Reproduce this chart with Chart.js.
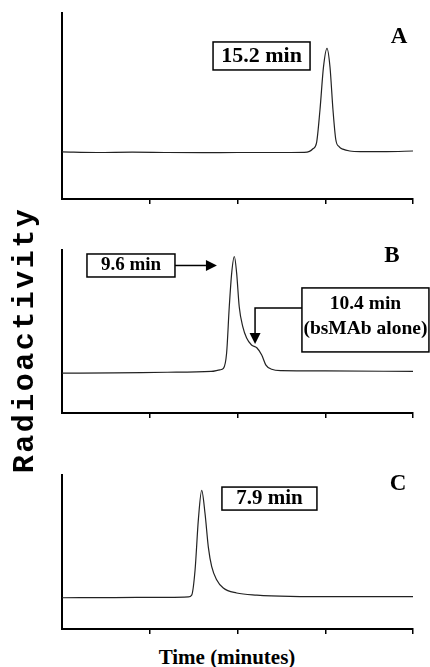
<!DOCTYPE html>
<html>
<head>
<meta charset="utf-8">
<script src="https://cdn.jsdelivr.net/npm/chart.js@4.4.0/dist/chart.umd.min.js"></script>
<style>
    body { margin: 0; background: #fff; }
    #wrap { position: relative; width: 430px; height: 667px; overflow: hidden; }
    canvas { position: absolute; left: 0; }
    .ylab {
        position: absolute; left: -112px; top: 325px; width: 270px; height: 30px;
        line-height: 30px; text-align: center; transform: rotate(-90deg);
        font: bold 30px "Liberation Mono", "Courier New", monospace; letter-spacing: 2.5px; color: #000;
    }
    .xlab {
        position: absolute; left: 127px; top: 645px; width: 200px; height: 21px;
        line-height: 21px; text-align: center;
        font: bold 21px "Liberation Serif", "Times New Roman", serif; color: #000;
    }
</style>
</head>
<body>
<div id="wrap">
    <canvas id="panelA" width="430" height="215" style="top:0px"></canvas>
    <canvas id="panelB" width="430" height="215" style="top:215px"></canvas>
    <canvas id="panelC" width="430" height="215" style="top:430px"></canvas>
    <div class="ylab">Radioactivity</div>
    <div class="xlab">Time (minutes)</div>
</div>
<script>
// tick marks on the time axis (minutes), no labels shown
var tickMinutes = [5, 10, 15, 20];

// A: 15.2 min peak
var timeA   = [0, 2, 4, 6, 8, 10, 12, 13.8, 14.1, 14.3, 14.5, 14.7, 14.9, 15.1, 15.27, 15.44, 15.6, 15.8, 16.0, 16.4, 17, 18.5, 20];
var countsA = [25.3, 25.0, 25.2, 25.0, 24.9, 25.0, 25.0, 25.1, 25.6, 27, 30, 48, 71, 81, 71, 48, 32, 28, 26.8, 25.8, 25.5, 25.5, 25.8];

// B: 9.6 min peak with 10.4 min shoulder
var timeB   = [0, 3, 6, 8.5, 9.0, 9.2, 9.38, 9.53, 9.67, 9.82, 9.95, 10.1, 10.3, 10.52, 10.8, 11.1, 11.38, 11.62, 11.95, 12.5, 15, 20];
var countsB = [24.5, 24.6, 25, 25.5, 26.5, 27.4, 36.8, 65, 86, 96, 86, 65, 53, 46, 41.7, 40, 35.6, 29.4, 26.8, 26, 25.8, 25.5];

// C: 7.9 min peak
var timeC   = [0, 3, 6, 7.2, 7.39, 7.58, 7.77, 7.96, 8.15, 8.34, 8.53, 8.81, 9.19, 9.95, 11.1, 13, 16, 20];
var countsC = [20.3, 20.4, 20.6, 20.8, 22, 38, 71, 90, 75, 53, 40.5, 32, 26.6, 23.4, 22, 21.2, 21, 21];

var SERIF = '"Liberation Serif", "Times New Roman", serif';

var panels = [
    {
        id: 'panelA', time: timeA, counts: countsA, pad: { top: 13, bottom: 10 },
        notes: {
            boxes: [{ x: 11.37, y: 76.9, w: 97, h: 28, size: 22, lines: [['15.2 min', 0]] }],
            letters: [{ x: 19.2, y: 86.8, text: 'A' }]
        }
    },
    {
        id: 'panelB', time: timeB, counts: countsB, pad: { top: 35, bottom: 11 },
        notes: {
            boxes: [
                { x: 3.93, y: 90.5, w: 88, h: 23, size: 19, lines: [['9.6 min', 0]] },
                { x: 17.29, y: 57.1, w: 127, h: 64, size: 19.5, lines: [['10.4 min', -16], ['(bsMAb alone)', 9]] }
            ],
            arrows: [
                [[6.44, 90.5], [8.83, 90.5]],
                [[13.68, 64.4], [11.0, 64.4], [11.0, 42.3]]
            ],
            letters: [{ x: 18.8, y: 96.0, text: 'B' }]
        }
    },
    {
        id: 'panelC', time: timeC, counts: countsC, pad: { top: 45, bottom: 10 },
        notes: {
            boxes: [{ x: 11.82, y: 84.7, w: 95, h: 23, size: 21, lines: [['7.9 min', 0]] }],
            letters: [{ x: 19.15, y: 93.8, text: 'C' }]
        }
    }
];

// boxes, arrows and panel letters, placed in data units
function calloutPlugin(notes) {
    return {
        id: 'callouts',
        afterDatasetsDraw: function (chart) {
            var ctx = chart.ctx;
            var xs = chart.scales.x, ys = chart.scales.y;
            ctx.save();
            ctx.strokeStyle = '#000';
            ctx.fillStyle = '#000';
            ctx.lineWidth = 1.5;

            (notes.arrows || []).forEach(function (path) {
                var pts = path.map(function (p) { return [xs.getPixelForValue(p[0]), ys.getPixelForValue(p[1])]; });
                var n = pts.length;
                var tip = pts[n - 1], prev = pts[n - 2];
                var ang = Math.atan2(tip[1] - prev[1], tip[0] - prev[0]);
                var L = 11, W = 5.5;
                var bx = tip[0] - L * Math.cos(ang), by = tip[1] - L * Math.sin(ang);
                ctx.beginPath();
                ctx.moveTo(pts[0][0], pts[0][1]);
                for (var i = 1; i < n - 1; i++) ctx.lineTo(pts[i][0], pts[i][1]);
                ctx.lineTo(bx, by);
                ctx.stroke();
                ctx.beginPath();
                ctx.moveTo(tip[0], tip[1]);
                ctx.lineTo(bx + W * Math.sin(ang), by - W * Math.cos(ang));
                ctx.lineTo(bx - W * Math.sin(ang), by + W * Math.cos(ang));
                ctx.closePath();
                ctx.fill();
            });

            (notes.boxes || []).forEach(function (b) {
                var cx = xs.getPixelForValue(b.x), cy = ys.getPixelForValue(b.y);
                ctx.fillStyle = '#fff';
                ctx.fillRect(cx - b.w / 2, cy - b.h / 2, b.w, b.h);
                ctx.strokeRect(cx - b.w / 2, cy - b.h / 2, b.w, b.h);
                ctx.fillStyle = '#000';
                ctx.font = 'bold ' + b.size + 'px ' + SERIF;
                ctx.textAlign = 'center';
                ctx.textBaseline = 'middle';
                b.lines.forEach(function (l) { ctx.fillText(l[0], cx, cy + l[1]); });
            });

            (notes.letters || []).forEach(function (t) {
                ctx.font = 'bold 23px ' + SERIF;
                ctx.textAlign = 'center';
                ctx.textBaseline = 'middle';
                ctx.fillText(t.text, xs.getPixelForValue(t.x), ys.getPixelForValue(t.y));
            });
            ctx.restore();
        }
    };
}

panels.forEach(function (p) {
    var pts = p.time.map(function (t, i) { return { x: t, y: p.counts[i] }; });
    new Chart(document.getElementById(p.id), {
        type: 'line',
        data: {
            datasets: [{
                data: pts,
                borderColor: '#222',
                borderWidth: 1.2,
                pointRadius: 0,
                cubicInterpolationMode: 'monotone',
                fill: false
            }]
        },
        options: {
            responsive: false,
            animation: false,
            devicePixelRatio: 1,
            layout: { padding: { left: 62, right: 17, top: p.pad.top, bottom: p.pad.bottom } },
            plugins: { legend: { display: false }, tooltip: { enabled: false } },
            scales: {
                x: {
                    type: 'linear', min: 0, max: 20,
                    afterBuildTicks: function (scale) {
                        scale.ticks = tickMinutes.map(function (v) { return { value: v }; });
                    },
                    afterFit: function (scale) { scale.height = 6; },
                    ticks: { display: false },
                    grid: { drawOnChartArea: false, drawTicks: true, tickLength: 5, color: '#000', lineWidth: 1.5 },
                    border: { display: true, color: '#000', width: 2 }
                },
                y: {
                    min: 0, max: 100,
                    afterFit: function (scale) { scale.width = 0; },
                    ticks: { display: false },
                    grid: { drawOnChartArea: false, drawTicks: false },
                    border: { display: true, color: '#000', width: 2 }
                }
            }
        },
        plugins: [calloutPlugin(p.notes)]
    });
});
</script>
</body>
</html>
